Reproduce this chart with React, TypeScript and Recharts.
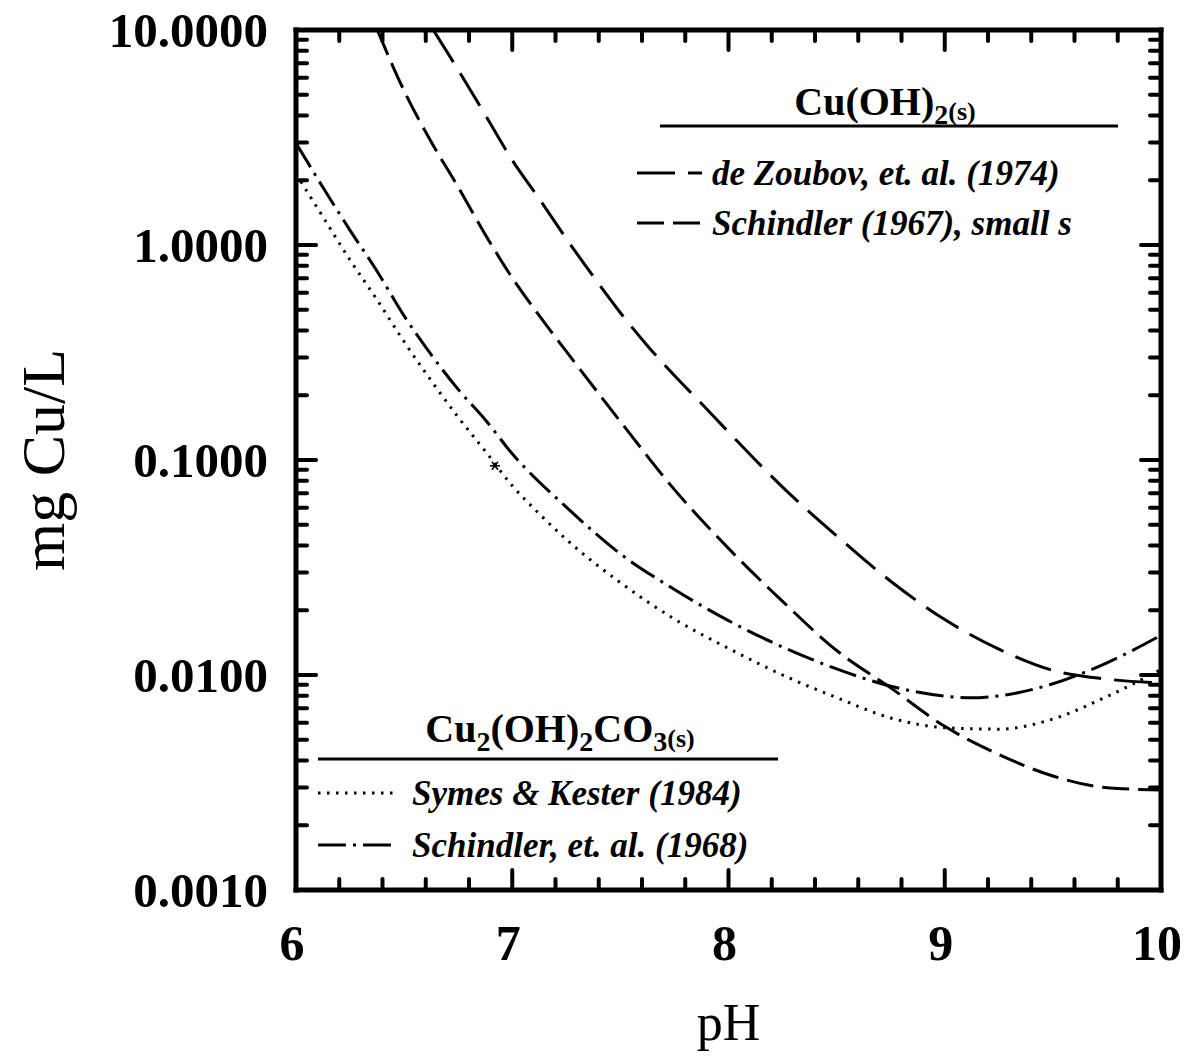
import React from "react";
import { LineChart, Line, XAxis, YAxis, Label } from "recharts";

const SERIF = '"Liberation Serif", "Times New Roman", Times, serif';

// pH ticks: whole units are labelled, minors every 0.2
const PH_TICKS = [
  6, 6.2, 6.4, 6.6, 6.8, 7, 7.2, 7.4, 7.6, 7.8, 8, 8.2, 8.4, 8.6, 8.8,
  9, 9.2, 9.4, 9.6, 9.8, 10,
];
// log ticks: decades labelled, 2..9 minors
const CU_TICKS = [
  0.001, 0.002, 0.003, 0.004, 0.005, 0.006, 0.007, 0.008, 0.009,
  0.01, 0.02, 0.03, 0.04, 0.05, 0.06, 0.07, 0.08, 0.09,
  0.1, 0.2, 0.3, 0.4, 0.5, 0.6, 0.7, 0.8, 0.9,
  1, 2, 3, 4, 5, 6, 7, 8, 9, 10,
];

// Cu(OH)2(s) — de Zoubov et al. (1974)
const ZOUBOV_PH = [6.635, 6.75, 6.875, 7.0, 7.125, 7.25, 7.375, 7.5, 7.625, 7.75, 7.875, 8.0, 8.25, 8.5, 8.75, 9.0, 9.25, 9.5, 9.75, 10.0];
const ZOUBOV_CU = [10.0, 6.52, 4.03, 2.48, 1.64, 1.07, 0.714, 0.484, 0.34, 0.247, 0.183, 0.135, 0.0748, 0.0444, 0.0273, 0.0181, 0.0132, 0.0105, 0.00957, 0.00918];

// Cu(OH)2(s) — Schindler (1967), small s
const SCH67_PH = [6.376, 6.5, 6.625, 6.75, 6.875, 7.0, 7.125, 7.25, 7.5, 7.75, 8.0, 8.25, 8.5, 8.75, 9.0, 9.25, 9.5, 9.75, 10.0];
const SCH67_CU = [10.0, 5.21, 3.02, 1.86, 1.12, 0.703, 0.469, 0.32, 0.151, 0.0728, 0.0388, 0.022, 0.013, 0.00871, 0.00577, 0.00427, 0.00339, 0.00299, 0.00292];

// Cu2(OH)2CO3(s) — Symes & Kester (1984)
const SYMES_PH = [6.0, 6.125, 6.25, 6.375, 6.5, 6.625, 6.75, 6.875, 7.0, 7.125, 7.25, 7.5, 7.75, 8.0, 8.25, 8.5, 8.75, 9.0, 9.25, 9.5, 9.75, 10.0];
const SYMES_CU = [2.14, 1.35, 0.851, 0.556, 0.355, 0.234, 0.158, 0.11, 0.0759, 0.0562, 0.0427, 0.0269, 0.0182, 0.0133, 0.01, 0.00785, 0.00631, 0.00569, 0.0056, 0.00624, 0.00794, 0.0106];
const SYMES_MARK_PH = [6.92];
const SYMES_MARK_CU = [0.094];

// Cu2(OH)2CO3(s) — Schindler et al. (1968)
const SCH68_PH = [6.0, 6.125, 6.25, 6.375, 6.5, 6.625, 6.75, 6.875, 7.0, 7.25, 7.5, 7.75, 8.0, 8.25, 8.5, 8.75, 9.0, 9.125, 9.25, 9.5, 9.75, 10.0];
const SCH68_CU = [2.98, 1.85, 1.17, 0.755, 0.468, 0.309, 0.213, 0.154, 0.107, 0.0604, 0.0366, 0.025, 0.0179, 0.0135, 0.01067, 0.00887, 0.00798, 0.00783, 0.008, 0.0091, 0.0114, 0.0153];

const DASH_ZOUBOV = "38 13";
const DASH_SCH67 = "27 9";
const DASH_SCH68 = "28 7 3 7";
const DASH_SYMES = "2.5 6.5";

const rows = (ph: number[], cu: number[]) => ph.map((p, i) => ({ ph: p, cu: cu[i] }));

const isWhole = (v: number) => Math.abs(v - Math.round(v)) < 1e-6;
const isDecade = (v: number) => isWhole(Math.log10(v));

const MAJOR = 20;
const MINOR = 11;
const TICK_W = 4;

function BottomTick({ x, y, payload }: any) {
  const v = payload.value;
  const major = isWhole(v);
  return (
    <g>
      <line x1={x} x2={x} y1={y} y2={y - (major ? MAJOR : MINOR)} stroke="#000" strokeWidth={TICK_W} strokeLinecap="round" />
      {major && (
        <text x={x - 4} y={y + 70} textAnchor="middle" fontFamily={SERIF} fontWeight={700} fontSize={50} fill="#000">
          {Math.round(v)}
        </text>
      )}
    </g>
  );
}

function TopTick({ x, y, payload }: any) {
  const major = isWhole(payload.value);
  return <line x1={x} x2={x} y1={y} y2={y + (major ? MAJOR : MINOR)} stroke="#000" strokeWidth={TICK_W} strokeLinecap="round" />;
}

function LeftTick({ x, y, payload }: any) {
  const v = payload.value;
  const major = isDecade(v);
  return (
    <g>
      <line x1={x} x2={x + (major ? MAJOR : MINOR)} y1={y} y2={y} stroke="#000" strokeWidth={TICK_W} strokeLinecap="round" />
      {major && (
        <text x={x - 28} y={y} dy="0.35em" textAnchor="end" fontFamily={SERIF} fontWeight={700} fontSize={49} fill="#000">
          {v.toFixed(4)}
        </text>
      )}
    </g>
  );
}

function RightTick({ x, y, payload }: any) {
  const major = isDecade(payload.value);
  return <line x1={x} x2={x - (major ? MAJOR : MINOR)} y1={y} y2={y} stroke="#000" strokeWidth={TICK_W} strokeLinecap="round" />;
}

function Asterisk({ cx, cy }: any) {
  if (cx == null || cy == null) return null;
  const r = 5;
  return (
    <g stroke="#000" strokeWidth={1.6}>
      <line x1={cx - r} x2={cx + r} y1={cy} y2={cy} />
      <line x1={cx - r * 0.6} x2={cx + r * 0.6} y1={cy - r * 0.8} y2={cy + r * 0.8} />
      <line x1={cx + r * 0.6} x2={cx - r * 0.6} y1={cy - r * 0.8} y2={cy + r * 0.8} />
    </g>
  );
}

const frame = { stroke: "#000", strokeWidth: 5, strokeLinecap: "square" as const };

function LegendSvg() {
  const italic = { fontFamily: SERIF, fontStyle: "italic", fontWeight: 700, fontSize: 35, fill: "#000" };
  const title = { fontFamily: SERIF, fontWeight: 700, fontSize: 40, fill: "#000" };
  return (
    <svg width={1193} height={1056} style={{ position: "absolute", left: 0, top: 0, pointerEvents: "none" }}>
      {/* Cu(OH)2(s) block */}
      <text x={885} y={115} textAnchor="middle" {...title}>
        Cu(OH)<tspan fontSize={28} dy={9}>2</tspan>
        <tspan fontSize={26} dy={-4}>(s)</tspan>
      </text>
      <line x1={660} x2={1118} y1={126} y2={126} stroke="#000" strokeWidth={3} />
      <line x1={637} x2={702} y1={173} y2={173} stroke="#000" strokeWidth={3} strokeDasharray={DASH_ZOUBOV} />
      <text x={712} y={185} {...italic}>de Zoubov, et. al. (1974)</text>
      <line x1={637} x2={702} y1={223} y2={223} stroke="#000" strokeWidth={3} strokeDasharray={DASH_SCH67} />
      <text x={712} y={235} {...italic}>Schindler (1967), small s</text>

      {/* Cu2(OH)2CO3(s) block */}
      <text x={560} y={742} textAnchor="middle" {...title}>
        Cu<tspan fontSize={28} dy={9}>2</tspan>
        <tspan dy={-9}>(OH)</tspan>
        <tspan fontSize={28} dy={9}>2</tspan>
        <tspan dy={-9}>CO</tspan>
        <tspan fontSize={28} dy={9}>3</tspan>
        <tspan fontSize={26} dy={-4}>(s)</tspan>
      </text>
      <line x1={318} x2={778} y1={759} y2={759} stroke="#000" strokeWidth={3} />
      <line x1={318} x2={398} y1={793} y2={793} stroke="#000" strokeWidth={3} strokeDasharray={DASH_SYMES} />
      <text x={412} y={805} {...italic}>Symes &amp; Kester (1984)</text>
      <line x1={318} x2={398} y1={845} y2={845} stroke="#000" strokeWidth={3} strokeDasharray={DASH_SCH68} />
      <text x={412} y={857} {...italic}>Schindler, et. al. (1968)</text>
    </svg>
  );
}

export default function App() {
  return (
    <div style={{ position: "absolute", left: 0, top: 0, width: 1193, height: 1056, background: "#fff" }}>
      <LineChart width={1193} height={1056} margin={{ top: 29, right: 31, bottom: 0, left: 0 }}>
        <XAxis
          dataKey="ph"
          type="number"
          domain={[6, 10]}
          ticks={PH_TICKS}
          interval={0}
          allowDataOverflow
          height={166}
          tickSize={0}
          tickMargin={0}
          tickLine={false}
          tick={BottomTick}
          axisLine={frame}
        >
          <Label
            content={({ viewBox }: any) => (
              <text x={viewBox.x + viewBox.width / 2} y={1040} textAnchor="middle" fontFamily={SERIF} fontSize={52} fill="#000">
                pH
              </text>
            )}
          />
        </XAxis>
        <XAxis
          xAxisId="top"
          orientation="top"
          dataKey="ph"
          type="number"
          domain={[6, 10]}
          ticks={PH_TICKS}
          interval={0}
          allowDataOverflow
          height={1}
          tickSize={0}
          tickMargin={0}
          tickLine={false}
          tick={TopTick}
          axisLine={frame}
        />
        <YAxis
          dataKey="cu"
          scale="log"
          type="number"
          domain={[0.001, 10]}
          ticks={CU_TICKS}
          interval={0}
          allowDataOverflow
          width={296}
          tickSize={0}
          tickMargin={0}
          tickLine={false}
          tick={LeftTick}
          axisLine={frame}
        >
          <Label
            content={({ viewBox }: any) => (
              <text
                transform={`translate(64, ${viewBox.y + viewBox.height / 2}) rotate(-90)`}
                textAnchor="middle"
                fontFamily={SERIF}
                fontSize={62}
                fill="#000"
              >
                mg Cu/L
              </text>
            )}
          />
        </YAxis>
        <YAxis
          yAxisId="right"
          orientation="right"
          dataKey="cu"
          scale="log"
          type="number"
          domain={[0.001, 10]}
          ticks={CU_TICKS}
          interval={0}
          allowDataOverflow
          width={1}
          tickSize={0}
          tickMargin={0}
          tickLine={false}
          tick={RightTick}
          axisLine={frame}
        />
        <Line data={rows(ZOUBOV_PH, ZOUBOV_CU)} dataKey="cu" type="monotone" stroke="#000" strokeWidth={3} strokeDasharray={DASH_ZOUBOV} dot={false} isAnimationActive={false} />
        <Line data={rows(SCH67_PH, SCH67_CU)} dataKey="cu" type="monotone" stroke="#000" strokeWidth={3} strokeDasharray={DASH_SCH67} dot={false} isAnimationActive={false} />
        <Line data={rows(SYMES_PH, SYMES_CU)} dataKey="cu" type="monotone" stroke="#000" strokeWidth={3} strokeDasharray={DASH_SYMES} dot={false} isAnimationActive={false} />
        <Line data={rows(SCH68_PH, SCH68_CU)} dataKey="cu" type="monotone" stroke="#000" strokeWidth={3} strokeDasharray={DASH_SCH68} dot={false} isAnimationActive={false} />
        {/* measured point, bound to the top/right axes so those get drawn too */}
        <Line
          xAxisId="top"
          yAxisId="right"
          data={rows(SYMES_MARK_PH, SYMES_MARK_CU)}
          dataKey="cu"
          stroke="none"
          dot={<Asterisk />}
          isAnimationActive={false}
        />
      </LineChart>
      <LegendSvg />
    </div>
  );
}
